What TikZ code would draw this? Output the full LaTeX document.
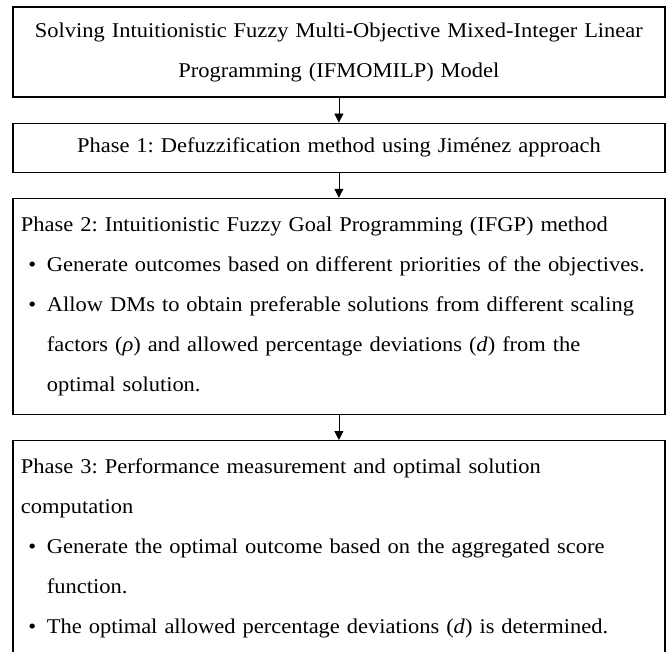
\documentclass[tikz,border=0pt]{standalone}
\usepackage{fontspec}
\setmainfont{Liberation Serif}[FakeStretch=1.07]
\usetikzlibrary{positioning, arrows.meta}
\newcommand{\phasebullet}{\makebox[26pt][l]{\hspace{7.5pt}\textbullet}}
\newcommand{\phaseindent}{\hspace*{26pt}}
\tikzset{
  flowbox/.style={
    draw=black, line width=1.2pt,
    text width=636pt, inner xsep=8pt, inner ysep=0pt,
    font=\fontsize{21}{40}\selectfont\frenchspacing
  },
  flowcenter/.style={flowbox, align=center},
  flowleft/.style={flowbox, align=left},
  flowarrow/.style={
    -{Triangle[length=9pt, width=9pt]}, line width=0.8pt, color=black
  },
}

\begin{document}
\begin{tikzpicture}[node distance=25pt]
  \useasboundingbox (0,0) rectangle (669pt,-652pt);

  % Model and phases
  \node[flowcenter, minimum height=90pt] (model) at (338.9pt,-52pt)
    {Solving Intuitionistic Fuzzy Multi-Objective Mixed-Integer Linear\\
     Programming (IFMOMILP) Model};
  \node[flowcenter, minimum height=49pt, below=of model] (phase1)
    {Phase 1: Defuzzification method using Jiménez approach};
  \node[flowleft, minimum height=216pt, below=of phase1] (phase2)
    {Phase 2: Intuitionistic Fuzzy Goal Programming (IFGP) method\\
     \phasebullet Generate outcomes based on different priorities of the objectives.\\
     \phasebullet Allow DMs to obtain preferable solutions from different scaling\\
     \phaseindent factors (\textit{ρ}) and allowed percentage deviations (\textit{d}) from the\\
     \phaseindent optimal solution.};
  \node[flowleft, minimum height=216pt, below=of phase2] (phase3)
    {Phase 3: Performance measurement and optimal solution\\
     computation\\
     \phasebullet Generate the optimal outcome based on the aggregated score\\
     \phaseindent function.\\
     \phasebullet The optimal allowed percentage deviations (\textit{d}) is determined.};

  % Flow arrows
  \draw[flowarrow] (model) -- (phase1);
  \draw[flowarrow] (phase1) -- (phase2);
  \draw[flowarrow] (phase2) -- (phase3);
\end{tikzpicture}
\end{document}
